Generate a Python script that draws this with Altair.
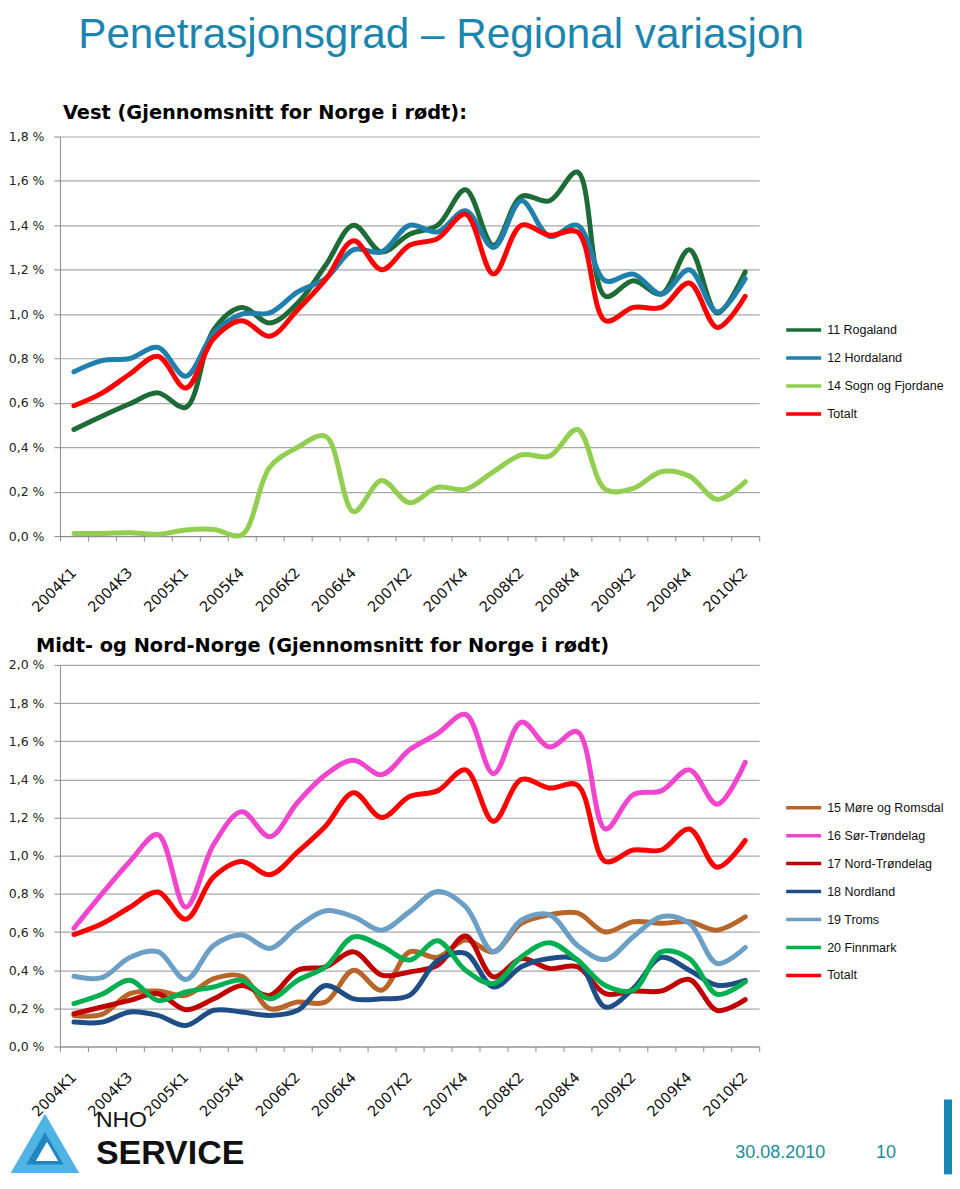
import json
import altair as alt
import pandas as pd

quarters = ["2004K1", "2004K2", "2004K3", "2004K4", "2005K1", "2005K3", "2005K4",
            "2006K1", "2006K2", "2006K3", "2006K4", "2007K1", "2007K2", "2007K3",
            "2007K4", "2008K1", "2008K2", "2008K3", "2008K4", "2009K1", "2009K2",
            "2009K3", "2009K4", "2010K1", "2010K2"]

# Vest (values in percent)
rogaland = [0.48, 0.54, 0.596, 0.645, 0.58, 0.93, 1.03, 0.96, 1.05, 1.22, 1.40, 1.28, 1.36,
            1.40, 1.56, 1.31, 1.53, 1.51, 1.64, 1.08, 1.15, 1.09, 1.29, 1.005, 1.19]
hordaland = [0.74, 0.79, 0.80, 0.85, 0.72, 0.915, 1.00, 1.005, 1.10, 1.16, 1.29, 1.28, 1.40,
             1.37, 1.465, 1.30, 1.51, 1.35, 1.40, 1.15, 1.18, 1.09, 1.20, 1.01, 1.16]
sogn_fjordane = [0.012, 0.012, 0.015, 0.008, 0.027, 0.03, 0.005, 0.31, 0.40, 0.45, 0.11, 0.25,
                 0.15, 0.22, 0.21, 0.29, 0.366, 0.36, 0.48, 0.21, 0.215, 0.29, 0.27, 0.165, 0.245]
totalt = [0.587, 0.644, 0.73, 0.81, 0.667, 0.89, 0.97, 0.90, 1.02, 1.156, 1.33, 1.20, 1.31,
          1.34, 1.45, 1.18, 1.40, 1.355, 1.37, 0.97, 1.03, 1.03, 1.14, 0.94, 1.08]

# Midt- og Nord-Norge
more_romsdal = [0.163, 0.168, 0.277, 0.291, 0.268, 0.356, 0.368, 0.198, 0.233, 0.233, 0.40, 0.295,
                0.496, 0.467, 0.558, 0.496, 0.646, 0.69, 0.70, 0.60, 0.654, 0.646, 0.654, 0.61, 0.68]
sor_trondelag = [0.62, 0.80, 0.97, 1.11, 0.73, 1.06, 1.23, 1.10, 1.28, 1.425, 1.50, 1.425, 1.555,
                 1.64, 1.74, 1.43, 1.70, 1.57, 1.65, 1.14, 1.32, 1.34, 1.45, 1.27, 1.49]
nord_trondelag = [0.172, 0.207, 0.242, 0.277, 0.193, 0.25, 0.32, 0.268, 0.40, 0.418, 0.496, 0.374,
                  0.391, 0.426, 0.579, 0.365, 0.461, 0.409, 0.418, 0.277, 0.291, 0.291, 0.351, 0.189, 0.246]
nordland = [0.128, 0.128, 0.181, 0.163, 0.11, 0.19, 0.181, 0.163, 0.19, 0.32, 0.25, 0.25, 0.268,
            0.45, 0.488, 0.312, 0.418, 0.461, 0.453, 0.207, 0.304, 0.467, 0.40, 0.321, 0.347]
troms = [0.368, 0.361, 0.467, 0.497, 0.351, 0.53, 0.584, 0.514, 0.628, 0.712, 0.68, 0.61, 0.707,
         0.812, 0.733, 0.496, 0.663, 0.69, 0.53, 0.456, 0.575, 0.68, 0.646, 0.435, 0.519]
finnmark = [0.225, 0.274, 0.347, 0.242, 0.286, 0.312, 0.347, 0.25, 0.347, 0.418, 0.575, 0.526,
            0.453, 0.554, 0.40, 0.33, 0.47, 0.544, 0.453, 0.32, 0.295, 0.496, 0.461, 0.274, 0.339]

vest_names = ["11 Rogaland", "12 Hordaland", "14 Sogn og Fjordane", "Totalt"]
vest_colors = ["#1d6b36", "#1f80ad", "#92cf50", "#ff0000"]
vest_series = [rogaland, hordaland, sogn_fjordane, totalt]

nord_names = ["15 Møre og Romsdal", "16 Sør-Trøndelag", "17 Nord-Trøndelag", "18 Nordland",
              "19 Troms", "20 Finnmark", "Totalt"]
nord_colors = ["#b9652a", "#f045cf", "#c00000", "#1f4d86", "#6c9fc5", "#00b050", "#ff0000"]
nord_series = [more_romsdal, sor_trondelag, nord_trondelag, nordland, troms, finnmark, totalt]

FONT = "Liberation Sans"
TFONT = "DejaVu Sans"


def frame(names, series):
    rows = []
    for n, vals in zip(names, series):
        for q, v in zip(quarters, vals):
            rows.append({"Kvartal": q, "Region": n, "Verdi": v})
    return pd.DataFrame(rows)


label_expr = "indexof(" + json.dumps(quarters) + ", datum.value) % 2 == 0 ? datum.value : ''"


def panel(names, colors, series, ymax, height, title_text, title_dx, title_offset,
          legend_y, row_h, x_label_pad):
    df = frame(names, series)
    ticks = [round(i * 0.2, 1) for i in range(int(round(ymax / 0.2)) + 1)]
    lines = alt.Chart(df).mark_line(
        interpolate="catmull-rom", strokeWidth=5, strokeCap="round"
    ).encode(
        x=alt.X("Kvartal:N", sort=quarters,
                scale=alt.Scale(type="band", paddingInner=0, paddingOuter=0),
                axis=alt.Axis(title=None, labelAngle=-45, labelExpr=label_expr,
                              tickBand="extent", tickSize=5, tickColor="#8c8c8c",
                              domainColor="#8c8c8c", labelFont=TFONT, labelFontSize=14.5,
                              labelColor="#111",
                              labelAlign="right", labelBaseline="middle",
                              labelPadding=x_label_pad, labelOverlap=False)),
        y=alt.Y("Verdi:Q", scale=alt.Scale(domain=[0, ymax], nice=False),
                axis=alt.Axis(title=None, values=ticks, grid=True, gridColor="#a8a8a8",
                              gridWidth=1.2, domainColor="#8c8c8c", tickColor="#8c8c8c",
                              tickSize=6, labelFont=TFONT, labelFontSize=12.5, labelColor="#222",
                              labelPadding=10,
                              labelExpr="replace(format(datum.value, '.1f'), '.', ',') + ' %'")),
        color=alt.Color("Region:N", sort=names,
                        scale=alt.Scale(domain=names, range=colors),
                        legend=alt.Legend(title=None, orient="none", legendX=725, legendY=legend_y,
                                          symbolType="stroke", symbolSize=1225,
                                          symbolStrokeWidth=3.5, labelFont=FONT,
                                          labelFontSize=12.5, labelColor="#111",
                                          labelOffset=4, rowPadding=0, clipHeight=row_h)),
        order=alt.Order("order:Q"),
    ).transform_calculate(
        order="indexof(" + json.dumps(names) + ", datum.Region)"
    ).properties(
        width=700, height=height,
        title=alt.TitleParams(title_text, anchor="start", frame="group", dx=title_dx,
                              fontSize=19.4, fontWeight="bold", font=TFONT, color="#000",
                              offset=title_offset),
    )
    return lines


top = panel(vest_names, vest_colors, vest_series, 1.8, 400,
            "Vest (Gjennomsnitt for Norge i rødt):", 3, 7, 179.7, 28, 29.5)
bottom = panel(nord_names, nord_colors, nord_series, 2.0, 382,
               "Midt- og Nord-Norge (Gjennomsnitt for Norge i rødt)", -24, 3, 129, 27.8, 23.5)

date_txt = alt.Chart(pd.DataFrame({"t": ["30.08.2010"]})).mark_text(
    font=FONT, fontSize=18, color="#1b8c9c", align="left", baseline="middle"
).encode(text="t:N", x=alt.value(676), y=alt.value(489))
page_txt = alt.Chart(pd.DataFrame({"t": ["10"]})).mark_text(
    font=FONT, fontSize=18, color="#1b8c9c", align="left", baseline="middle"
).encode(text="t:N", x=alt.value(817), y=alt.value(489))
nho_txt = alt.Chart(pd.DataFrame({"t": ["NHO"]})).mark_text(
    font=FONT, fontSize=23, color="#111", align="left", baseline="middle"
).encode(text="t:N", x=alt.value(36), y=alt.value(456))
service_txt = alt.Chart(pd.DataFrame({"t": ["SERVICE"]})).mark_text(
    font=FONT, fontSize=34, fontWeight="bold", color="#111", align="left", baseline="middle"
).encode(text="t:N", x=alt.value(36), y=alt.value(490))
logo_outer = alt.Chart(pd.DataFrame({"t": ["logo"]})).mark_point(
    shape="triangle-up", filled=True, color="#4fb3e3", opacity=1, size=4700
).encode(x=alt.value(-15), y=alt.value(479))
logo_mid = alt.Chart(pd.DataFrame({"t": ["logo"]})).mark_point(
    shape="triangle-up", filled=True, color="#1f86c0", opacity=1, size=1400
).encode(x=alt.value(-15), y=alt.value(484))
logo_inner = alt.Chart(pd.DataFrame({"t": ["logo"]})).mark_point(
    shape="triangle-up", filled=True, color="#ffffff", opacity=1, size=500
).encode(x=alt.value(-13), y=alt.value(487))
blue_bar = alt.Chart(pd.DataFrame({"t": ["bar"]})).mark_rect(color="#1a86b8").encode(
    x=alt.value(885), x2=alt.value(893), y=alt.value(435), y2=alt.value(510))

bottom_full = alt.layer(bottom, date_txt, page_txt, nho_txt, service_txt,
                        logo_outer, logo_mid, logo_inner, blue_bar)

chart = alt.vconcat(top, bottom_full, spacing=129, bounds="flush").resolve_scale(
    color="independent", x="independent", y="independent"
).properties(
    title=alt.TitleParams("Penetrasjonsgrad – Regional variasjon", anchor="start",
                          frame="bounds", dx=70, fontSize=42.3, fontWeight="normal",
                          font=FONT, color="#1a86b0", offset=46),
    padding={"left": 0, "top": 5, "right": 0, "bottom": 0},
).configure_view(strokeWidth=0)

chart.save("out.html", embed_options={"renderer": "svg", "actions": False})
